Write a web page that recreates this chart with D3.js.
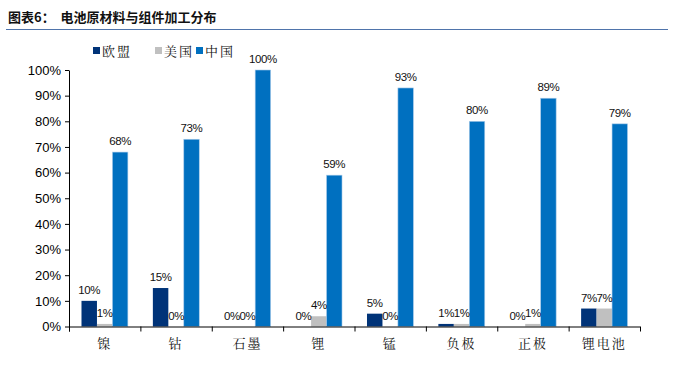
<!DOCTYPE html>
<html><head><meta charset="utf-8">
<script src="https://cdn.jsdelivr.net/npm/d3@7"></script>
<style>
body{margin:0;background:#fff;}
svg{display:block;}
</style></head>
<body>
<svg id="c" width="673" height="367"></svg>
<script>
const categories = ["镍","钴","石墨","锂","锰","负极","正极","锂电池"];
const seriesNames = ["欧盟","美国","中国"];
const euValues = [10,15,0,0,5,1,0,7];
const usValues = [1,0,0,4,0,1,1,7];
const cnValues = [68,73,100,59,93,80,89,79];
const yTicks = [0,10,20,30,40,50,60,70,80,90,100];
const colors = ["#003378","#c0c0c0","#0070c0"];
const title = "图表6：  电池原材料与组件加工分布";

const svg = d3.select("#c");
const m = {l:69, r:640, t:70, b:326.5};

// Title
svg.append("text").attr("x",8).attr("y",22)
  .attr("font-family","'Noto Sans CJK SC',sans-serif").attr("font-weight","bold")
  .attr("font-size",13).attr("fill","#111").attr("xml:space","preserve").text(title);
svg.append("line").attr("x1",6).attr("x2",668).attr("y1",29.5).attr("y2",29.5)
  .attr("stroke","#4f74ab").attr("stroke-width",1.2);

const x0 = d3.scaleBand().domain(categories).range([m.l,m.r]).paddingInner(0.35).paddingOuter(0.175);
const x1 = d3.scaleBand().domain(seriesNames).range([0,x0.bandwidth()]);
const y = d3.scaleLinear().domain([0,100]).range([m.b,m.t]);

// Y axis
const yAxis = d3.axisLeft(y).tickValues(yTicks).tickFormat(d=>d+"%").tickSize(4).tickSizeOuter(0);
const gy = svg.append("g").attr("transform",`translate(${m.l},0)`).call(yAxis);
gy.select(".domain").attr("stroke","#000");
gy.selectAll(".tick line").attr("stroke","#000");
gy.selectAll(".tick text").attr("font-family","Arial,'Liberation Sans',sans-serif").attr("font-size",13).attr("fill","#000").attr("x",-8);
svg.append("line").attr("x1",m.l+0.5).attr("x2",m.l+0.5).attr("y1",m.b).attr("y2",m.b+5).attr("stroke","#000");

const data = categories.map((c,i)=>({cat:c, vals:[euValues[i],usValues[i],cnValues[i]]}));

const groups = svg.append("g").selectAll("g").data(data).join("g")
  .attr("transform",d=>`translate(${x0(d.cat)},0)`);
groups.selectAll("rect").data(d=>d.vals.map((v,j)=>({v,s:seriesNames[j],j}))).join("rect")
  .attr("x",d=>x1(d.s)).attr("width",x1.bandwidth())
  .attr("y",d=>y(d.v)).attr("height",d=>y(0)-y(d.v))
  .attr("fill",d=>colors[d.j])
  .attr("stroke",d=>d.j===2?"#a9cbe9":"none").attr("stroke-width",0.6);
groups.selectAll("text").data(d=>d.vals.map((v,j)=>({v,s:seriesNames[j],j}))).join("text")
  .attr("x",d=>x1(d.s)+x1.bandwidth()/2).attr("y",d=>y(d.v)-7)
  .attr("text-anchor","middle").attr("font-family","Arial,'Liberation Sans',sans-serif")
  .attr("font-size",11.5).attr("letter-spacing",-0.4).attr("fill","#111").text(d=>d.v+"%");

// X axis
const step = (m.r-m.l)/categories.length;
const xa = svg.append("g");
xa.append("line").attr("x1",m.l).attr("x2",m.r).attr("y1",m.b+0.5).attr("y2",m.b+0.5).attr("stroke","#000");
xa.selectAll("line.t").data(d3.range(categories.length+1)).join("line").attr("class","t")
  .attr("x1",i=>m.l+i*step+0.5).attr("x2",i=>m.l+i*step+0.5).attr("y1",m.b).attr("y2",m.b+5).attr("stroke","#000");
xa.selectAll("text").data(categories).join("text")
  .attr("x",d=>x0(d)+x0.bandwidth()/2).attr("y",348).attr("text-anchor","middle")
  .attr("font-family","'Noto Serif CJK SC','Noto Sans CJK SC',serif").attr("font-size",13).attr("letter-spacing",2)
  .attr("fill","#111").text(d=>d);

// Legend
const lx = [93,155,196];
const lg = svg.append("g");
seriesNames.forEach((n,i)=>{
  lg.append("rect").attr("x",lx[i]).attr("y",47).attr("width",7).attr("height",7).attr("fill",colors[i]);
  lg.append("text").attr("x",lx[i]+9).attr("y",56).attr("font-family","'Noto Serif CJK SC','Noto Sans CJK SC',serif")
    .attr("font-size",13).attr("letter-spacing",2).attr("fill","#111").text(n);
});
</script>
</body></html>
